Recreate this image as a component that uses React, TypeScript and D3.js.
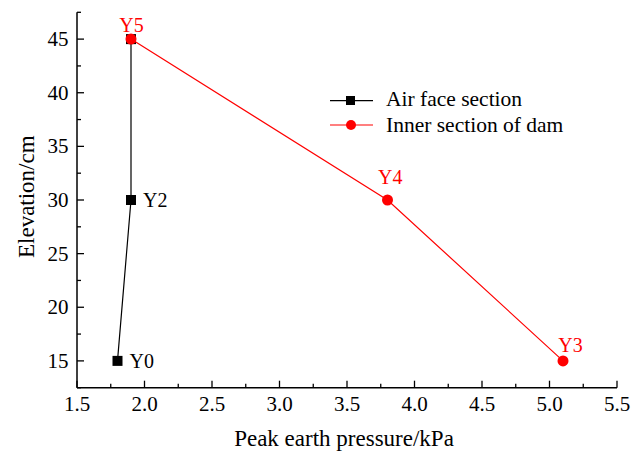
import React from "react";
import * as d3 from "d3";

const airX = [1.8, 1.9, 1.9];
const airY = [15, 30, 45];
const airLabels = ["Y0", "Y2", ""];
const innerX = [1.9, 3.8, 5.1];
const innerY = [45, 30, 15];
const innerLabels = ["Y5", "Y4", "Y3"];
const xTicks = [1.5, 2.0, 2.5, 3.0, 3.5, 4.0, 4.5, 5.0, 5.5];
const yTicks = [15, 20, 25, 30, 35, 40, 45];
const seriesNames = ["Air face section", "Inner section of dam"];

// label placement (pixel offsets from the marker)
const innerLabelDx = [0.5, 2.7, 7.5];
const innerLabelDy = [-7, -16, -9.3];

const W = 644, H = 453;
const L = 77, R = 617, T = 12.3, B = 387.7;
const FONT = "'Liberation Serif', 'Times New Roman', Times, serif";

export default function App() {
  const x = d3.scaleLinear().domain([1.5, 5.5]).range([L, R]);
  const y = d3.scaleLinear().domain([12.5, 47.5]).range([B, T]);
  const line = d3.line<[number, number]>().x(d => x(d[0])).y(d => y(d[1]));
  const air = airX.map((v, i) => [v, airY[i]] as [number, number]);
  const inner = innerX.map((v, i) => [v, innerY[i]] as [number, number]);
  const xMinor = d3.range(1.75, 5.5, 0.5);
  const yMinor = d3.range(12.5, 47.6, 5);

  return (
    <svg width={W} height={H} style={{ position: "absolute", left: 0, top: 0, background: "#fff", fontFamily: FONT }}>
      {/* axes */}
      <line x1={L} x2={L} y1={T} y2={B} stroke="#000" strokeWidth={1.5} />
      <line x1={L} x2={R} y1={B} y2={B} stroke="#000" strokeWidth={1.5} />
      {xTicks.map(t => (
        <g key={"xt" + t}>
          <line x1={x(t)} x2={x(t)} y1={B} y2={B - 7} stroke="#000" strokeWidth={1.3} />
          <text x={x(t)} y={411} fontSize={21} textAnchor="middle">{t.toFixed(1)}</text>
        </g>
      ))}
      {xMinor.map(t => (
        <line key={"xm" + t} x1={x(t)} x2={x(t)} y1={B} y2={B - 4} stroke="#000" strokeWidth={1.3} />
      ))}
      {yTicks.map(t => (
        <g key={"yt" + t}>
          <line x1={L} x2={L + 7} y1={y(t)} y2={y(t)} stroke="#000" strokeWidth={1.3} />
          <text x={68.5} y={y(t) + 7} fontSize={21} textAnchor="end">{t}</text>
        </g>
      ))}
      {yMinor.map(t => (
        <line key={"ym" + t} x1={L} x2={L + 4} y1={y(t)} y2={y(t)} stroke="#000" strokeWidth={1.3} />
      ))}
      <text x={344} y={446} fontSize={23} textAnchor="middle">Peak earth pressure/kPa</text>
      <text transform={`translate(34,196.7) rotate(-90)`} fontSize={23} textAnchor="middle">Elevation/cm</text>

      {/* series */}
      <path d={line(air) || ""} fill="none" stroke="#000" strokeWidth={1.2} />
      {air.map((d, i) => (
        <rect key={"a" + i} x={x(d[0]) - 5} y={y(d[1]) - 5} width={10} height={10} fill="#000" />
      ))}
      <path d={line(inner) || ""} fill="none" stroke="#ff0000" strokeWidth={1.2} />
      {inner.map((d, i) => (
        <circle key={"c" + i} cx={x(d[0])} cy={y(d[1])} r={5.5} fill="#ff0000" />
      ))}
      {air.map((d, i) => airLabels[i] ? (
        <text key={"al" + i} x={x(d[0]) + 12} y={y(d[1]) + 7} fontSize={20} fill="#000">{airLabels[i]}</text>
      ) : null)}
      {inner.map((d, i) => (
        <text key={"il" + i} x={x(d[0]) + innerLabelDx[i]} y={y(d[1]) + innerLabelDy[i]} fontSize={20} fill="#ff0000" textAnchor="middle">{innerLabels[i]}</text>
      ))}

      {/* legend */}
      <line x1={330} x2={373} y1={100.7} y2={100.7} stroke="#000" strokeWidth={1.2} />
      <rect x={346} y={96} width={9} height={9} fill="#000" />
      <text x={386} y={106} fontSize={21.5}>{seriesNames[0]}</text>
      <line x1={330} x2={373} y1={125} y2={125} stroke="#ff0000" strokeWidth={1.2} />
      <circle cx={351} cy={125} r={5} fill="#ff0000" />
      <text x={386} y={131.5} fontSize={21.5}>{seriesNames[1]}</text>
    </svg>
  );
}
